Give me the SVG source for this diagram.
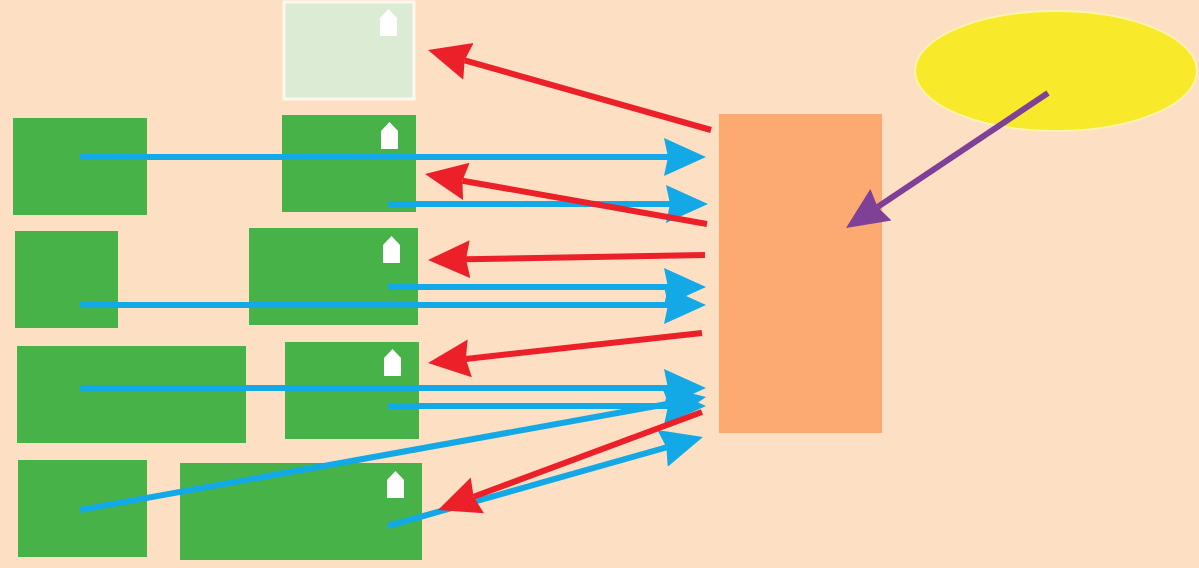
<svg xmlns="http://www.w3.org/2000/svg" width="1199" height="568" viewBox="0 0 1199 568">
<style>
.box{fill:#47b248}
.pale{fill:#dcebd4;stroke:#fdf8ef;stroke-width:3}
.house{fill:#fff}
.blue{stroke:#12a9e6;stroke-width:6;fill:none;marker-end:url(#hb)}
.red{stroke:#ec2029;stroke-width:6;fill:none;marker-end:url(#hr)}
.purple{stroke:#7f4097;stroke-width:6;fill:none;marker-end:url(#hp)}
</style>
<defs>
<marker id="hb" markerUnits="userSpaceOnUse" markerWidth="42" markerHeight="40" viewBox="0 0 42 40" refX="4" refY="20" orient="auto"><polygon points="0,1 42,20 0,39 4,20" fill="#12a9e6"/></marker>
<marker id="hr" markerUnits="userSpaceOnUse" markerWidth="42" markerHeight="40" viewBox="0 0 42 40" refX="4" refY="20" orient="auto"><polygon points="0,1 42,20 0,39 4,20" fill="#ec2029"/></marker>
<marker id="hp" markerUnits="userSpaceOnUse" markerWidth="42" markerHeight="40" viewBox="0 0 42 40" refX="4" refY="20" orient="auto"><polygon points="0,1 42,20 0,39 4,20" fill="#7f4097"/></marker>
<path id="house" class="house" d="M0 27V9L8.500 0L17 9V27Z"/>
</defs>
<rect width="1199" height="568" fill="#fddfc4"/>
<g id="top-box"><rect class="pale" x="284" y="2" width="130" height="97"/><use href="#house" x="380" y="9"/></g>
<g id="left-1"><rect class="box" x="13" y="118" width="134" height="97"/></g>
<g id="right-1"><rect class="box" x="282" y="115" width="134" height="97"/><use href="#house" x="381" y="122"/></g>
<g id="left-2"><rect class="box" x="15" y="231" width="103" height="97"/></g>
<g id="right-2"><rect class="box" x="249" y="228" width="169" height="97"/><use href="#house" x="383" y="236"/></g>
<g id="left-3"><rect class="box" x="17" y="346" width="229" height="97"/></g>
<g id="right-3"><rect class="box" x="285" y="342" width="134" height="97"/><use href="#house" x="384" y="349"/></g>
<g id="left-4"><rect class="box" x="18" y="460" width="129" height="97"/></g>
<g id="right-4"><rect class="box" x="180" y="463" width="242" height="97"/><use href="#house" x="387" y="471"/></g>
<g id="center"><rect x="719" y="114" width="163" height="319" fill="#fcaa72"/></g>
<g id="ellipse"><ellipse cx="1056" cy="71" rx="141" ry="60" fill="#f9e92b" stroke="#fdf3b0" stroke-width="2"/></g>
<g id="connectors">
<path class="blue" d="M80 157H668"/>
<path class="blue" d="M388 204H670"/>
<path class="blue" d="M388 287H668"/>
<path class="blue" d="M80 305H668"/>
<path class="blue" d="M80 388H668"/>
<path class="blue" d="M388 406H668"/>
<path class="blue" d="M80 510L668.600 403.800"/>
<path class="blue" d="M388 526L666.400 447.300"/>
<path class="red" d="M711 130L464.600 60.300"/>
<path class="red" d="M707 224L462.400 180.700"/>
<path class="red" d="M705 255L466 259.300"/>
<path class="red" d="M702 333L465.800 358.900"/>
<path class="red" d="M702 412L473.600 496.800"/>
<path class="purple" d="M1048 93L877.600 206.900"/>
</g>
</svg>
